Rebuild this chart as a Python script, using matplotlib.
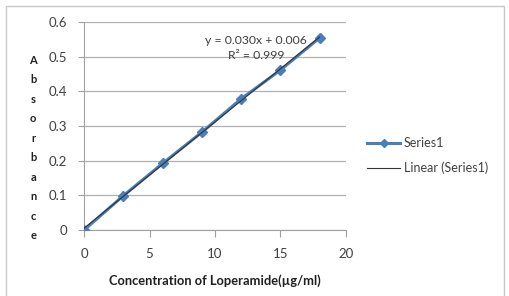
import numpy as np
import matplotlib
matplotlib.use("Agg")
import matplotlib.pyplot as plt
from matplotlib.patches import Rectangle

conc = [0, 3, 6, 9, 12, 15, 18]
absorb = [0.0, 0.099, 0.192, 0.282, 0.378, 0.461, 0.554]
xticks = [0, 5, 10, 15, 20]
yticks = [0, 0.1, 0.2, 0.3, 0.4, 0.5, 0.6]
ytick_labels = ["0", "0.1", "0.2", "0.3", "0.4", "0.5", "0.6"]
eq_text = "y = 0.030x + 0.006\nR² = 0.999"

plt.rcParams['font.family'] = ['Lato', 'DejaVu Sans']

fig = plt.figure(figsize=(5.10, 2.96), dpi=100)
fig.patches.append(Rectangle((0.012, -0.05), 0.976, 1.03, transform=fig.transFigure,
                             fill=False, edgecolor='#c8c8c8', linewidth=1.0))
ax = fig.add_axes([0.165, 0.223, 0.513, 0.703])

ax.plot(conc, absorb, color='#4a7ebb', linewidth=2.2, marker='D', markersize=5,
        label='Series1', zorder=3)
coef = np.polyfit(conc, absorb, 1)
xs = np.array([conc[0], conc[-1]])
ax.plot(xs, np.polyval(coef, xs), color='#333333', linewidth=0.8,
        label='Linear (Series1)', zorder=4)

ax.set_xlim(0, 20)
ax.set_ylim(0, 0.6)
ax.set_xticks(xticks)
ax.set_yticks(yticks)
ax.set_yticklabels(ytick_labels)
ax.grid(axis='y', color='#b0b0b0', linewidth=0.9)
ax.set_axisbelow(True)
for s in ['top', 'right']:
    ax.spines[s].set_visible(False)
for s in ['left', 'bottom']:
    ax.spines[s].set_color('#a0a0a0')
ax.tick_params(axis='x', direction='out', length=5, color='#a0a0a0', labelsize=9.5,
               labelcolor='#404040', pad=8)
ax.tick_params(axis='y', direction='out', length=4, color='#a0a0a0', labelsize=9.5,
               labelcolor='#404040', pad=8)

ax.text(0.656, 0.873, eq_text, transform=ax.transAxes, ha='center', va='center',
        fontsize=8.8, color='#404040', linespacing=1.45)

ax.set_xlabel('Concentration of Loperamide(µg/ml)', fontsize=9.3, fontweight='bold',
              color='#202020', labelpad=10)
fig.text(0.065, 0.5, "\n".join("Absorbance"), ha='center', va='center',
         fontsize=8, fontweight='bold', color='#202020', linespacing=1.95)

ax.legend(loc='center left', bbox_to_anchor=(1.04, 0.358), frameon=False, fontsize=9,
          handlelength=2.6, labelcolor='#404040', handletextpad=0.3, labelspacing=1.0,
          markerscale=0.8)

fig.savefig('out.png', dpi=100)
